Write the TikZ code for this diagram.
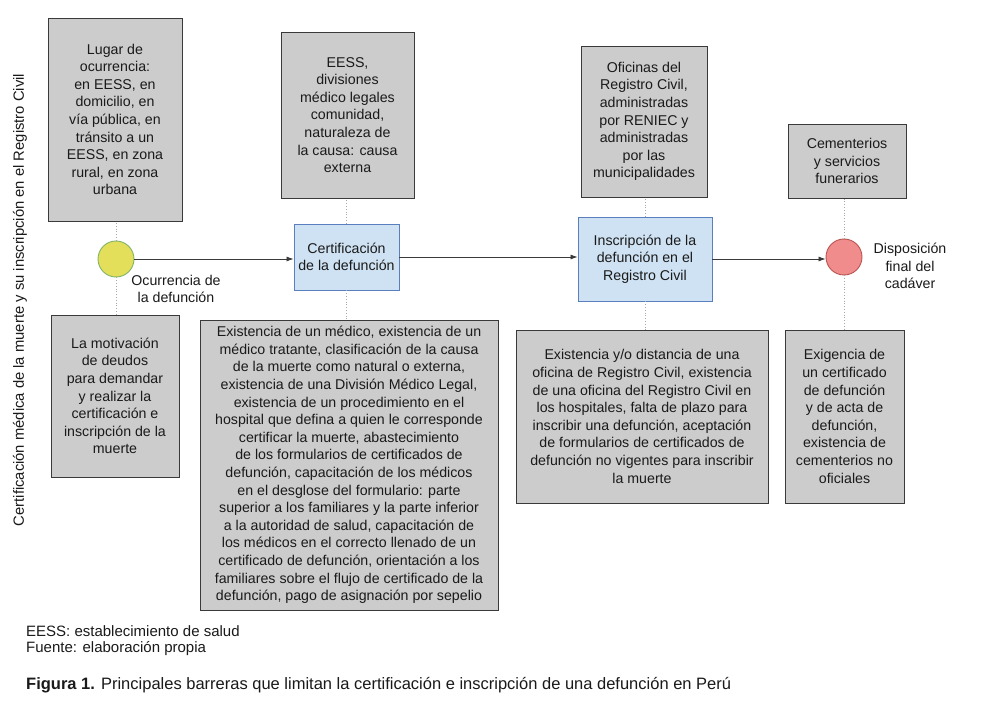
\documentclass[tikz,border=0pt]{standalone}
\usepackage{fontspec}
\setmainfont{Liberation Sans}
\usetikzlibrary{arrows.meta}
\definecolor{boxgray}{HTML}{CCCCCC}
\definecolor{boxline}{HTML}{3A3A3A}
\definecolor{bluefill}{HTML}{CFE2F3}
\definecolor{blueline}{HTML}{5A7FBF}
\definecolor{yelfill}{HTML}{E3DF5B}
\definecolor{yelline}{HTML}{82B366}
\definecolor{redfill}{HTML}{F08C8C}
\definecolor{redline}{HTML}{B85450}
\definecolor{dotgray}{HTML}{A8A8A8}
\definecolor{txt}{HTML}{1A1A1A}
\tikzset{
  graybox/.style={draw=boxline, line width=0.9pt, fill=boxgray, align=center, inner sep=0pt,
    font=\fontsize{14.2}{17.6}\selectfont, text=txt},
  bluebox/.style={draw=blueline, line width=0.9pt, fill=bluefill, align=center, inner sep=0pt,
    font=\fontsize{14.2}{17.6}\selectfont, text=txt},
  evt/.style={circle, minimum size=36pt, inner sep=0pt, line width=0.9pt},
  lbl/.style={align=center, font=\fontsize{14.2}{17.6}\selectfont, text=txt, inner sep=0pt},
  footnote/.style={anchor=west, inner sep=0pt, font=\fontsize{15}{18}\selectfont, text=txt},
  dotline/.style={draw=dotgray, dotted, line width=0.8pt},
  flow/.style={draw=boxline, line width=0.8pt, -{Latex[length=7pt,width=5pt]}}
}
\begin{document}
\begin{tikzpicture}[x=1pt,y=-1pt]
\useasboundingbox[fill=white] (0,0) rectangle (1000,708);
% top boxes
\node[graybox, minimum width=134pt, minimum height=203pt] (A) at (115,119.5)
  {Lugar de\\ocurrencia:\\en EESS, en\\domicilio, en\\vía pública, en\\tránsito a un\\EESS, en zona\\rural, en zona\\urbana};
\node[graybox, minimum width=133pt, minimum height=166pt] (B) at (347.5,115)
  {EESS,\\divisiones\\médico legales\\comunidad,\\naturaleza de\\la causa: causa\\externa};
\node[graybox, minimum width=126pt, minimum height=151pt] (C) at (644,121.5)
  {Oficinas del\\Registro Civil,\\administradas\\por RENIEC y\\administradas\\por las\\municipalidades};
\node[graybox, minimum width=118pt, minimum height=74pt] (D) at (847,161)
  {Cementerios\\y servicios\\funerarios};
% main flow
\node[evt, fill=yelfill, draw=yelline] (Y) at (116,259) {};
\node[bluebox, minimum width=105pt, minimum height=66pt] (P1) at (346.5,257)
  {Certificación\\de la defunción};
\node[bluebox, minimum width=134pt, minimum height=84pt] (P2) at (645,259)
  {Inscripción de la\\defunción en el\\Registro Civil};
\node[evt, fill=redfill, draw=redline] (R) at (844,257) {};
\node[lbl] (Ylbl) at (176,289) {Ocurrencia de\\la defunción};
\node[lbl] (Rlbl) at (910,266) {Disposición\\final del\\cadáver};
% bottom boxes
\node[graybox, minimum width=128pt, minimum height=162pt] (E) at (115,396)
  {La motivación\\de deudos\\para demandar\\y realizar la\\certificación e\\inscripción de la\\muerte};
\node[graybox, minimum width=298pt, minimum height=290pt] (F) at (349,465)
  {Existencia de un médico, existencia de un\\médico tratante, clasificación de la causa\\de la muerte como natural o externa,\\existencia de una División Médico Legal,\\existencia de un procedimiento en el\\hospital que defina a quien le corresponde\\certificar la muerte, abastecimiento\\de los formularios de certificados de\\defunción, capacitación de los médicos\\en el desglose del formulario: parte\\superior a los familiares y la parte inferior\\a la autoridad de salud, capacitación de\\los médicos en el correcto llenado de un\\certificado de defunción, orientación a los\\familiares sobre el flujo de certificado de la\\defunción, pago de asignación por sepelio};
\node[graybox, minimum width=252pt, minimum height=173pt] (G) at (642,416.5)
  {Existencia y/o distancia de una\\oficina de Registro Civil, existencia\\de una oficina del Registro Civil en\\los hospitales, falta de plazo para\\inscribir una defunción, aceptación\\de formularios de certificados de\\defunción no vigentes para inscribir\\la muerte};
\node[graybox, minimum width=119pt, minimum height=173pt] (H) at (844.5,416.5)
  {Exigencia de\\un certificado\\de defunción\\y de acta de\\defunción,\\existencia de\\cementerios no\\oficiales};
% dotted links
\draw[dotline] (Y.north) -- (Y.north |- A.south);
\draw[dotline] (Y.south) -- (Y.south |- E.north);
\draw[dotline] (P1.north) -- (P1.north |- B.south);
\draw[dotline] (P1.south) -- (P1.south |- F.north);
\draw[dotline] (P2.north) -- (P2.north |- C.south);
\draw[dotline] (P2.south) -- (P2.south |- G.north);
\draw[dotline] (R.north) -- (R.north |- D.south);
\draw[dotline] (R.south) -- (R.south |- H.north);
% flow arrows
\draw[flow] (Y.east) -- (Y.east -| P1.west);
\draw[flow] (P1.east) -- (P1.east -| P2.west);
\draw[flow] (P2.east) -- (P2.east -| R.west);
% side title
\node[lbl, rotate=90, font=\fontsize{14.8}{18}\selectfont] (side) at (20,300) {Certificación médica de la muerte y su inscripción en el Registro Civil};
% footer
\node[footnote] (n1) at (26,631) {EESS: establecimiento de salud};
\node[footnote] (n2) at (26,649) {Fuente: elaboración propia};
\node[footnote, font=\fontsize{16.5}{18}\selectfont] (cap) at (26,685) {\textbf{Figura 1.} Principales barreras que limitan la certificación e inscripción de una defunción en Perú};
\end{tikzpicture}
\end{document}
